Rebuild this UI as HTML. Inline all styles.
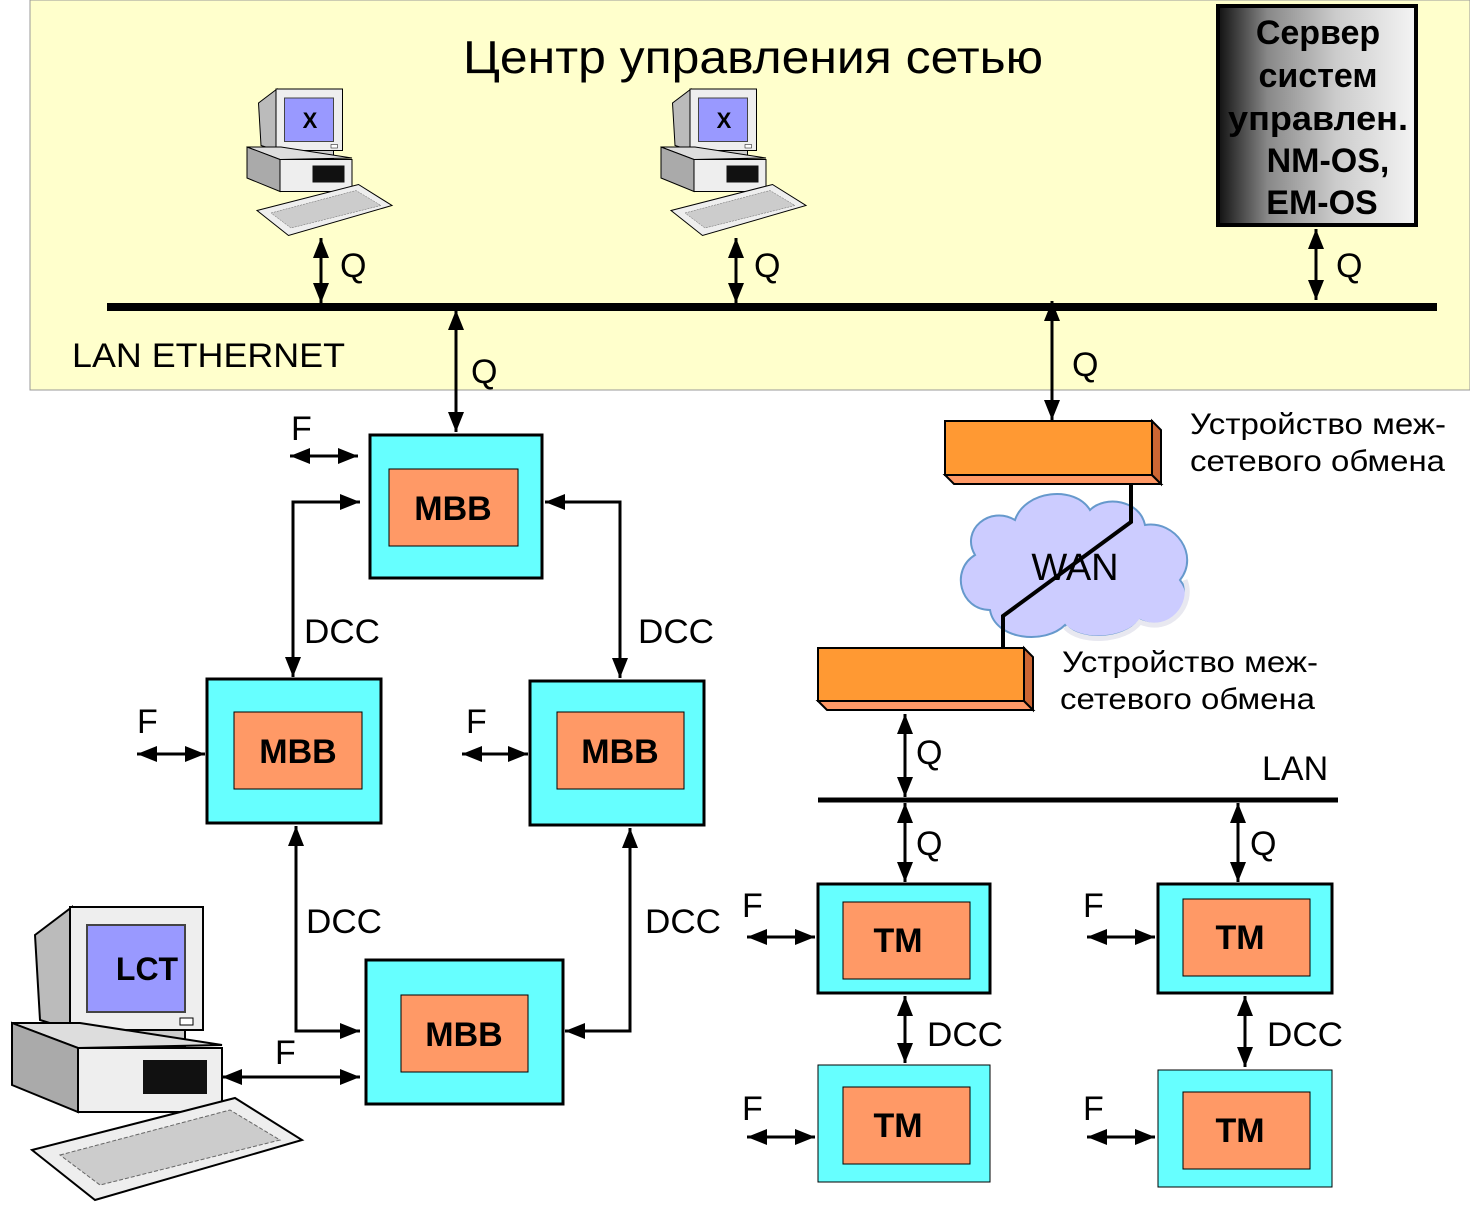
<!DOCTYPE html>
<html><head><meta charset="utf-8"><style>
html,body{margin:0;padding:0;background:#fff}
svg{display:block}
text{font-family:"Liberation Sans",sans-serif}
</style></head><body>
<svg width="1470" height="1213" viewBox="0 0 1470 1213" xmlns="http://www.w3.org/2000/svg">
<defs>
<marker id="a" viewBox="0 0 20 16" refX="20" refY="8" markerWidth="20" markerHeight="16" markerUnits="userSpaceOnUse" orient="auto-start-reverse"><path d="M0,0 L20,8 L0,16 z" fill="#000"/></marker>
<linearGradient id="srv" x1="0" x2="1" y1="0" y2="0">
<stop offset="0" stop-color="#111"/><stop offset="0.25" stop-color="#888"/><stop offset="0.6" stop-color="#ccc"/><stop offset="1" stop-color="#f4f4f4"/></linearGradient>
<g id="pc">
<polygon points="35,935 72,907 72,1030 40,1020" fill="#bbb" stroke="#000" stroke-width="2"/>
<rect x="70" y="907" width="133" height="123" fill="#eee" stroke="#000" stroke-width="2"/>
<rect x="87" y="925" width="98" height="87" fill="#9999ff" stroke="#444" stroke-width="2"/>
<rect x="180" y="1018" width="13" height="7" fill="#fff" stroke="#000"/>
<rect x="80" y="1030" width="105" height="16" fill="#ccc" stroke="#000" stroke-width="2"/>
<polygon points="12,1023 80,1023 222,1045 78,1048" fill="#ddd" stroke="#000" stroke-width="2"/>
<polygon points="12,1023 78,1048 78,1112 12,1085" fill="#aaa" stroke="#000" stroke-width="2"/>
<rect x="78" y="1048" width="144" height="64" fill="#eee" stroke="#000" stroke-width="2"/>
<rect x="143" y="1060" width="64" height="34" fill="#111"/>
<polygon points="32,1150 235,1098 302,1140 95,1200" fill="#eee" stroke="#000" stroke-width="2"/>
<polygon points="60,1155 230,1110 280,1140 100,1185" fill="#ccc" stroke="#666" stroke-width="1" stroke-dasharray="4 2"/>
</g>
</defs>
<rect x="30" y="0" width="1440" height="390" fill="#ffffcc" stroke="#999" stroke-width="1"/>
<text x="463" y="73" font-size="46" textLength="580" lengthAdjust="spacingAndGlyphs">Центр управления сетью</text>

<use href="#pc" transform="translate(241,-364.5) scale(0.5)"/>
<text x="310" y="128" font-size="22" font-weight="bold" text-anchor="middle">X</text>
<use href="#pc" transform="translate(655,-364.5) scale(0.5)"/>
<text x="724" y="128" font-size="22" font-weight="bold" text-anchor="middle">X</text>

<rect x="1218" y="6" width="198" height="219" fill="url(#srv)" stroke="#000" stroke-width="4"/>
<g font-size="34" font-weight="bold" text-anchor="middle">
<text x="1318" y="44">Сервер</text><text x="1318" y="87">систем</text><text x="1318" y="130" textLength="180" lengthAdjust="spacingAndGlyphs">управлен.</text><text x="1328" y="172">NM-OS,</text><text x="1322" y="214">EM-OS</text></g>

<line x1="107" y1="307" x2="1437" y2="307" stroke="#000" stroke-width="8"/>
<text x="72" y="367" font-size="34" textLength="273" lengthAdjust="spacingAndGlyphs">LAN ETHERNET</text>

<g stroke="#000" stroke-width="3" fill="none">
<line x1="321" y1="238" x2="321" y2="303" marker-start="url(#a)" marker-end="url(#a)"/>
<line x1="736" y1="238" x2="736" y2="303" marker-start="url(#a)" marker-end="url(#a)"/>
<line x1="1316" y1="229" x2="1316" y2="300" marker-start="url(#a)" marker-end="url(#a)"/>
<line x1="456" y1="310" x2="456" y2="432" marker-start="url(#a)" marker-end="url(#a)"/>
<line x1="1052" y1="301" x2="1052" y2="420" marker-start="url(#a)" marker-end="url(#a)"/>
<line x1="290" y1="456" x2="358" y2="456" marker-start="url(#a)" marker-end="url(#a)"/>
<polyline points="360,502 293,502 293,677" marker-start="url(#a)" marker-end="url(#a)"/>
<polyline points="545,502 620,502 620,678" marker-start="url(#a)" marker-end="url(#a)"/>
<polyline points="296,826 296,1031 360,1031" marker-start="url(#a)" marker-end="url(#a)"/>
<polyline points="630,828 630,1031 565,1031" marker-start="url(#a)" marker-end="url(#a)"/>
<line x1="137" y1="754" x2="205" y2="754" marker-start="url(#a)" marker-end="url(#a)"/>
<line x1="462" y1="754" x2="528" y2="754" marker-start="url(#a)" marker-end="url(#a)"/>
<line x1="222" y1="1077" x2="360" y2="1077" marker-start="url(#a)" marker-end="url(#a)"/>
<line x1="905" y1="714" x2="905" y2="797" marker-start="url(#a)" marker-end="url(#a)"/>
<line x1="905" y1="803" x2="905" y2="882" marker-start="url(#a)" marker-end="url(#a)"/>
<line x1="1238" y1="803" x2="1238" y2="882" marker-start="url(#a)" marker-end="url(#a)"/>
<line x1="905" y1="996" x2="905" y2="1063" marker-start="url(#a)" marker-end="url(#a)"/>
<line x1="1245" y1="996" x2="1245" y2="1067" marker-start="url(#a)" marker-end="url(#a)"/>
<line x1="747" y1="937" x2="815" y2="937" marker-start="url(#a)" marker-end="url(#a)"/>
<line x1="1087" y1="937" x2="1155" y2="937" marker-start="url(#a)" marker-end="url(#a)"/>
<line x1="747" y1="1137" x2="815" y2="1137" marker-start="url(#a)" marker-end="url(#a)"/>
<line x1="1087" y1="1137" x2="1155" y2="1137" marker-start="url(#a)" marker-end="url(#a)"/>
</g>

<g font-size="34">
<text x="340" y="277">Q</text><text x="754" y="277">Q</text><text x="1336" y="277">Q</text>
<text x="471" y="383">Q</text><text x="1072" y="376">Q</text>
<text x="291" y="440">F</text><text x="137" y="733">F</text><text x="466" y="733">F</text><text x="275" y="1064">F</text>
<text x="304" y="643" textLength="76" lengthAdjust="spacingAndGlyphs">DCC</text><text x="638" y="643" textLength="76" lengthAdjust="spacingAndGlyphs">DCC</text>
<text x="306" y="933" textLength="76" lengthAdjust="spacingAndGlyphs">DCC</text><text x="645" y="933" textLength="76" lengthAdjust="spacingAndGlyphs">DCC</text>
<text x="916" y="764">Q</text><text x="916" y="855">Q</text><text x="1250" y="855">Q</text>
<text x="927" y="1046" textLength="76" lengthAdjust="spacingAndGlyphs">DCC</text><text x="1267" y="1046" textLength="76" lengthAdjust="spacingAndGlyphs">DCC</text>
<text x="742" y="917">F</text><text x="1083" y="917">F</text><text x="742" y="1120">F</text><text x="1083" y="1120">F</text>
<text x="1262" y="780">LAN</text>
</g>
<g font-size="30">
<text x="1190" y="434" textLength="256" lengthAdjust="spacingAndGlyphs">Устройство меж-</text><text x="1190" y="471" textLength="255" lengthAdjust="spacingAndGlyphs">сетевого обмена</text>
<text x="1062" y="672" textLength="256" lengthAdjust="spacingAndGlyphs">Устройство меж-</text><text x="1060" y="709" textLength="255" lengthAdjust="spacingAndGlyphs">сетевого обмена</text>
</g>

<line x1="818" y1="800" x2="1338" y2="800" stroke="#000" stroke-width="5"/>

<g stroke="#000" stroke-width="3">
<rect x="370" y="435" width="172" height="143" fill="#66ffff"/>
<rect x="389" y="469" width="129" height="77" fill="#ff9966" stroke-width="1"/>
<rect x="207" y="679" width="174" height="144" fill="#66ffff"/>
<rect x="234" y="712" width="128" height="77" fill="#ff9966" stroke-width="1"/>
<rect x="530" y="681" width="174" height="144" fill="#66ffff"/>
<rect x="557" y="712" width="127" height="77" fill="#ff9966" stroke-width="1"/>
<rect x="366" y="960" width="197" height="144" fill="#66ffff"/>
<rect x="401" y="995" width="127" height="77" fill="#ff9966" stroke-width="1"/>
<rect x="818" y="884" width="172" height="109" fill="#66ffff"/>
<rect x="843" y="902" width="127" height="77" fill="#ff9966" stroke-width="1"/>
<rect x="1158" y="884" width="174" height="109" fill="#66ffff"/>
<rect x="1183" y="899" width="127" height="77" fill="#ff9966" stroke-width="1"/>
<rect x="818" y="1065" width="172" height="117" fill="#66ffff" stroke-width="1"/>
<rect x="843" y="1087" width="127" height="77" fill="#ff9966" stroke-width="1"/>
<rect x="1158" y="1070" width="174" height="117" fill="#66ffff" stroke-width="1"/>
<rect x="1183" y="1092" width="127" height="77" fill="#ff9966" stroke-width="1"/>
</g>
<g font-size="34" font-weight="bold" text-anchor="middle">
<text x="453" y="520">MBB</text><text x="298" y="763">MBB</text><text x="620" y="763">MBB</text><text x="464" y="1046">MBB</text>
<text x="898" y="952">TM</text><text x="1240" y="949">TM</text><text x="898" y="1137">TM</text><text x="1240" y="1142">TM</text>
</g>

<g stroke="#000" stroke-width="2">
<polygon points="945,475 1152,475 1161,484 954,484" fill="#ff9966"/>
<polygon points="1152,421 1161,430 1161,484 1152,475" fill="#cc6633"/>
<rect x="945" y="421" width="207" height="54" fill="#ff9933"/>
<polygon points="818,701 1024,701 1033,710 827,710" fill="#ff9966"/>
<polygon points="1024,648 1033,657 1033,710 1024,701" fill="#cc6633"/>
<rect x="818" y="648" width="206" height="53" fill="#ff9933"/>
</g>
<path d="M990,610 C960,610 950,570 975,555 C960,530 990,505 1015,520 C1025,490 1075,485 1090,510 C1105,495 1140,500 1145,525 C1175,520 1200,555 1180,580 C1200,605 1170,635 1140,620 C1125,640 1080,642 1065,625 C1045,645 995,640 990,610 Z" fill="#ccccff" stroke="#6699cc" stroke-width="2"/>
<path d="M1185,580 C1195,605 1170,635 1140,622 C1125,642 1080,644 1065,627" fill="none" stroke="#e8e8f0" stroke-width="5"/>
<text x="1075" y="580" font-size="38" text-anchor="middle">WAN</text>
<polyline points="1131,484 1131,522 1003,616 1003,648" fill="none" stroke="#000" stroke-width="4"/>

<use href="#pc"/>
<text x="147" y="980" font-size="32" font-weight="bold" text-anchor="middle">LCT</text>
</svg>
</body></html>
